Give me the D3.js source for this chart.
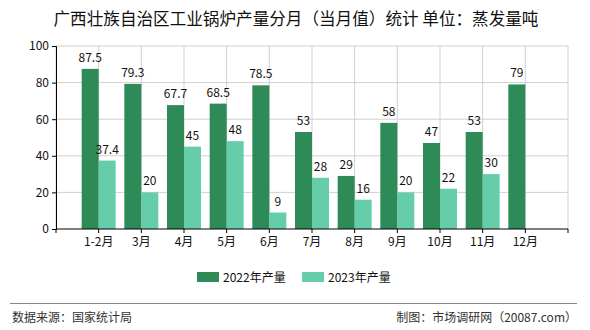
<!DOCTYPE html>
<html>
<head>
<meta charset="utf-8">
<script src="https://cdn.jsdelivr.net/npm/d3@7"></script>
<style>
  body { margin: 0; background: #fff; }
  svg text { font-family: "Noto Sans CJK SC", "DejaVu Sans", sans-serif; }
</style>
</head>
<body>
<div id="chart"></div>
<script>
const W = 590
const H = 330

const months = ["1-2月", "3月", "4月", "5月", "6月", "7月", "8月", "9月", "10月", "11月", "12月"]
const output2022 = [87.5, 79.3, 67.7, 68.5, 78.5, 53, 29, 58, 47, 53, 79]
const output2023 = [37.4, 20, 45, 48, 9, 28, 16, 20, 22, 30, null]
const yTicks = [0, 20, 40, 60, 80, 100]

const DARK = "#2e8b57"
const LIGHT = "#66cdaa"

let plotL = 56, plotR = 568, plotT = 46, plotB = 229
let step = (plotR - plotL) / (months.length + 1)
let barW = 17

var svg = d3.select("#chart")
    .append("svg")
    .attr("width", W)
    .attr("height", H)

svg.append("text")
    .attr("x", 296)
    .attr("y", 25)
    .attr("text-anchor", "middle")
    .attr("font-size", 16.6)
    .attr("fill", "#111")
    .text("广西壮族自治区工业锅炉产量分月（当月值）统计 单位：蒸发量吨")

const x = d3.scalePoint()
    .domain(months)
    .range([plotL + step, plotR - step])

const y = d3.scaleLinear()
    .domain([0, 100])
    .range([plotB, plotT])

// grid: horizontal at y ticks, vertical at each month plus both edges
const g = svg.append("g")
g.selectAll(".hg")
    .data(yTicks.slice(1))
    .enter()
    .append("line")
    .attr("x1", plotL).attr("x2", plotR)
    .attr("y1", d => y(d)).attr("y2", d => y(d))
    .attr("stroke", "#d0d0d0")
let vx = [plotL].concat(months.map(m => x(m)), [plotR])
g.selectAll(".vg")
    .data(vx)
    .enter()
    .append("line")
    .attr("x1", d => d).attr("x2", d => d)
    .attr("y1", plotT).attr("y2", plotB)
    .attr("stroke", "#d0d0d0")

// bars
svg.selectAll(".b22")
    .data(months)
    .enter()
    .append("rect")
    .attr("x", d => x(d) - barW)
    .attr("y", (d, i) => y(output2022[i]))
    .attr("width", barW)
    .attr("height", (d, i) => plotB - y(output2022[i]))
    .attr("fill", DARK)

let light = months.map((m, i) => ({m: m, v: output2023[i]})).filter(d => d.v != null)
svg.selectAll(".b23")
    .data(light)
    .enter()
    .append("rect")
    .attr("x", d => x(d.m))
    .attr("y", d => y(d.v))
    .attr("width", barW)
    .attr("height", d => plotB - y(d.v))
    .attr("fill", LIGHT)

// value labels
svg.selectAll(".l22")
    .data(months)
    .enter()
    .append("text")
    .attr("x", d => x(d) - barW / 2)
    .attr("y", (d, i) => y(output2022[i]) - 7)
    .attr("text-anchor", "middle")
    .attr("font-size", 12)
    .attr("fill", "#111")
    .text((d, i) => output2022[i])
svg.selectAll(".l23")
    .data(light)
    .enter()
    .append("text")
    .attr("x", d => x(d.m) + barW / 2)
    .attr("y", d => y(d.v) - 7)
    .attr("text-anchor", "middle")
    .attr("font-size", 12)
    .attr("fill", "#111")
    .text(d => d.v)

// axes
const yAxis = svg.append("g")
    .attr("transform", "translate(" + plotL + ",0)")
    .call(d3.axisLeft(y).tickValues(yTicks).tickSize(4).tickPadding(3))
yAxis.select(".domain").attr("stroke", "#000")
yAxis.selectAll("text").attr("font-size", 12).attr("fill", "#111")

svg.append("line")
    .attr("x1", plotL).attr("x2", plotR)
    .attr("y1", plotB).attr("y2", plotB)
    .attr("stroke", "#000")
svg.selectAll(".xt")
    .data(vx)
    .enter()
    .append("line")
    .attr("x1", d => d).attr("x2", d => d)
    .attr("y1", plotB).attr("y2", plotB + 4)
    .attr("stroke", "#000")
svg.selectAll(".xl")
    .data(months)
    .enter()
    .append("text")
    .attr("x", d => x(d))
    .attr("y", plotB + 17)
    .attr("text-anchor", "middle")
    .attr("font-size", 12)
    .attr("fill", "#111")
    .text(d => d)

// legend
const legend = [["2022年产量", DARK, 197], ["2023年产量", LIGHT, 302]]
legend.forEach(function(l) {
    svg.append("rect")
        .attr("x", l[2]).attr("y", 272)
        .attr("width", 22).attr("height", 10)
        .attr("fill", l[1])
    svg.append("text")
        .attr("x", l[2] + 26).attr("y", 282)
        .attr("font-size", 12)
        .attr("fill", "#111")
        .text(l[0])
})

// footer
svg.append("line")
    .attr("x1", 10).attr("x2", 577)
    .attr("y1", 303.5).attr("y2", 303.5)
    .attr("stroke", "#888")
svg.append("text")
    .attr("x", 12).attr("y", 322)
    .attr("font-size", 12)
    .attr("fill", "#333")
    .text("数据来源：国家统计局")
svg.append("text")
    .attr("x", 577).attr("y", 322)
    .attr("text-anchor", "end")
    .attr("font-size", 12)
    .attr("fill", "#333")
    .text("制图：市场调研网（20087.com）")
</script>
</body>
</html>
